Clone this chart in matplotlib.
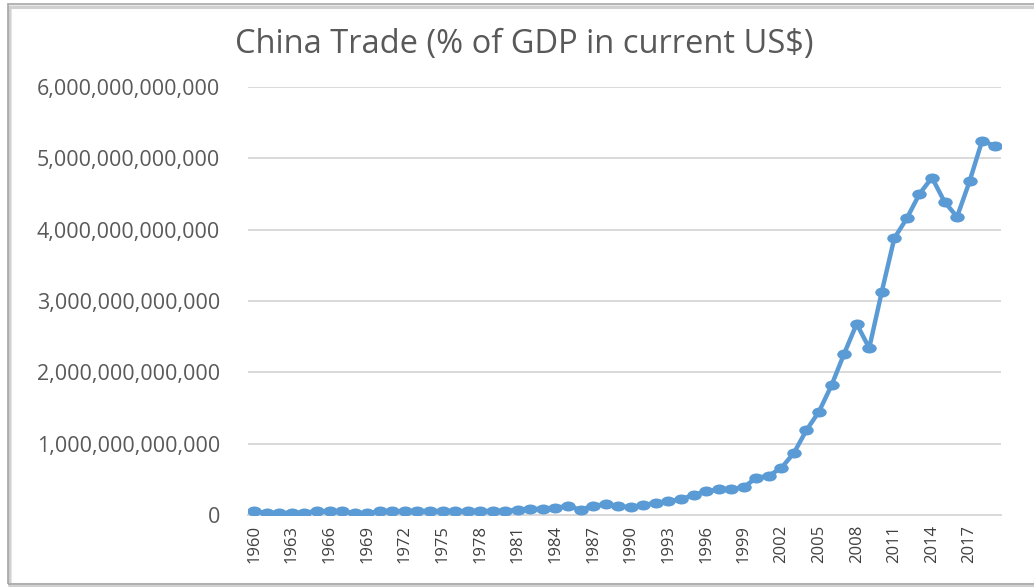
import numpy as np
import matplotlib.pyplot as plt
from matplotlib.markers import MarkerStyle
from matplotlib.transforms import Affine2D
from matplotlib.patches import Rectangle
from matplotlib.ticker import FuncFormatter

plt.rcParams['font.family'] = ['Open Sans', 'DejaVu Sans']

# China trade, current US$ (trillions), 1960-2019
years = np.arange(1960, 2020)
trade_tn = [0.05, 0.03, 0.03, 0.03, 0.035, 0.05, 0.055, 0.05, 0.025, 0.025,
            0.05, 0.05, 0.055, 0.055, 0.055, 0.055, 0.055, 0.055, 0.055, 0.055,
            0.06, 0.07, 0.08, 0.09, 0.10, 0.13, 0.07, 0.13, 0.15, 0.12,
            0.11, 0.14, 0.17, 0.19, 0.22, 0.28, 0.33, 0.36, 0.36, 0.39,
            0.52, 0.55, 0.66, 0.87, 1.19, 1.45, 1.82, 2.26, 2.68, 2.34,
            3.13, 3.88, 4.16, 4.50, 4.73, 4.39, 4.18, 4.68, 5.25, 5.17]
trade = np.array(trade_tn) * 1e12
yticks = np.arange(0, 7e12, 1e12)

fig = plt.figure(figsize=(10.34, 5.87), dpi=100)

# chart frame with a soft shadow
for off, c, lw in [(0.004, '#e6e6e6', 3), (0.002, '#cfcfcf', 2)]:
    fig.patches.append(Rectangle((8 / 1034 + off / 2, off), 1.1, 1 - 4 / 587 - 3 / 587 - off,
                                 transform=fig.transFigure, fill=False,
                                 edgecolor=c, lw=lw, zorder=0))
fig.patches.append(Rectangle((8 / 1034, 3 / 587), 1.1, 1 - 4 / 587 - 3 / 587,
                             transform=fig.transFigure, fill=False,
                             edgecolor='#a6a6a6', lw=1.2, zorder=1))

ax = fig.add_axes([248 / 1034, 1 - 515 / 587, (1001 - 248) / 1034, (515 - 87) / 587])
x = np.arange(len(years))
ell = MarkerStyle('o', transform=Affine2D().scale(1.45, 1.0))
ax.plot(x, trade, color='#5b9bd5', lw=3.2, marker=ell, markersize=7.2,
        markeredgewidth=0, solid_capstyle='round', zorder=3)

ax.set_xlim(-0.5, len(years) - 0.5)
ax.set_ylim(0, 6e12)
ax.set_yticks(yticks)
ax.yaxis.set_major_formatter(FuncFormatter(lambda v, p: f'{v:,.0f}'))
ax.set_xticks(x[::3])
ax.set_xticklabels([str(y) for y in years[::3]], rotation=90)
ax.grid(axis='y', color='#d9d9d9', lw=1.4)
ax.set_axisbelow(True)
for s in ['top', 'right', 'left']:
    ax.spines[s].set_visible(False)
ax.spines['bottom'].set_color('#d9d9d9')
ax.spines['bottom'].set_linewidth(1.4)
ax.tick_params(axis='y', length=0, pad=20, labelsize=15.5, labelcolor='#595959')
ax.tick_params(axis='x', length=0, pad=7, labelsize=12, labelcolor='#404040')

fig.text(524 / 1034, 1 - 45 / 587, 'China Trade (% of GDP in current US$)',
         ha='center', va='center', fontsize=23.5, color='#595959')

plt.savefig('out.png', dpi=100)
